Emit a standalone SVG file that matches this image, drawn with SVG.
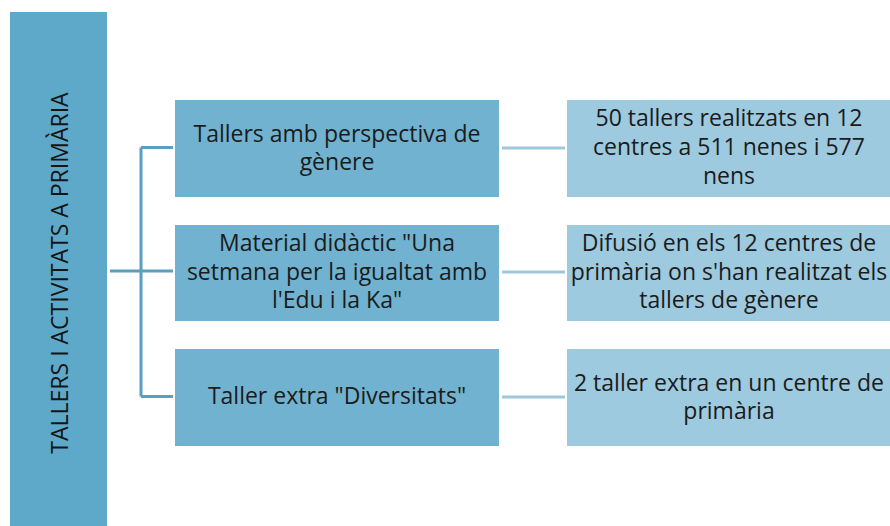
<svg xmlns="http://www.w3.org/2000/svg" width="890" height="526" viewBox="0 0 890 526">
<style>
text{font-family:"Open Sans","Liberation Sans",sans-serif;font-size:23px;fill:#1b1b1b;text-anchor:middle}
.rt{fill:#151515}
.root{fill:#5ea9c9}
.mid{fill:#70b2cf}
.leaf{fill:#9dcadf}
.cl{stroke:#5a9ec0;stroke-width:3;fill:none}
.cr{stroke:#9fc7da;stroke-width:3;fill:none}
</style>
<rect width="890" height="526" fill="#ffffff"/>
<g id="connectors">
<path class="cl" d="M110 271H141M141 147.5V396.5M141 147.5H173M141 271H173M141 396.5H173"/>
<path class="cr" d="M502 148H565M502 272H565M502 397H565"/>
</g>
<g id="root">
<rect class="root" x="10" y="12" width="97" height="514"/>
<text class="rt" transform="translate(68 273) rotate(-90)">TALLERS I ACTIVITATS A PRIMÀRIA</text>
</g>
<g id="n1">
<rect class="mid" x="175" y="100" width="324" height="97"/>
<text x="337" y="142">Tallers amb perspectiva de</text>
<text x="337" y="170">gènere</text>
</g>
<g id="n2">
<rect class="mid" x="175" y="225" width="324" height="96"/>
<text x="337" y="251">Material didàctic "Una</text>
<text x="337" y="280">setmana per la igualtat amb</text>
<text x="337" y="308">l'Edu i la Ka"</text>
</g>
<g id="n3">
<rect class="mid" x="175" y="349" width="324" height="97"/>
<text x="337" y="404">Taller extra "Diversitats"</text>
</g>
<g id="l1">
<rect class="leaf" x="567" y="100" width="323" height="97"/>
<text x="729" y="126">50 tallers realitzats en 12</text>
<text x="729" y="155">centres a 511 nenes i 577</text>
<text x="729" y="184">nens</text>
</g>
<g id="l2">
<rect class="leaf" x="567" y="225" width="323" height="96"/>
<text x="729" y="251">Difusió en els 12 centres de</text>
<text x="729" y="280">primària on s'han realitzat els</text>
<text x="729" y="308">tallers de gènere</text>
</g>
<g id="l3">
<rect class="leaf" x="567" y="349" width="323" height="97"/>
<text x="729" y="391">2 taller extra en un centre de</text>
<text x="729" y="419">primària</text>
</g>
</svg>
